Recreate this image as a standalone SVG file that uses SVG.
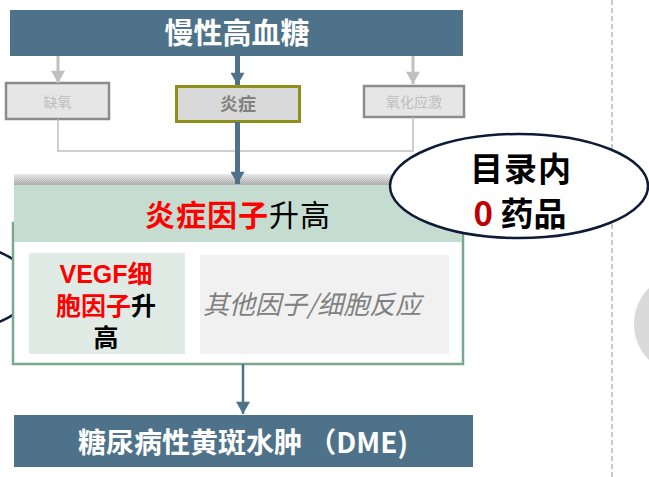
<svg xmlns="http://www.w3.org/2000/svg" width="649" height="477" viewBox="0 0 649 477">
<style>
.cjk{font-family:"Noto Sans CJK SC","Noto Sans",sans-serif}
.bar{fill:#4D7289}
.wt{fill:#FFFFFF;font-weight:bold}
.gbox{fill:#E6E6E6;stroke:#8C8C8C;stroke-width:2.5}
.gtxt{fill:#BDBDBD;font-size:14px}
.garrow{stroke:#C0C0C0;stroke-width:3;fill:none}
.barrow{stroke:#4D7289;fill:none}
.red{fill:#FF0000;font-weight:bold}
.vg{font-family:"Liberation Sans","Noto Sans CJK SC",sans-serif;font-size:25px;font-weight:bold}
</style>
<defs>
<marker id="hg" markerUnits="userSpaceOnUse" markerWidth="16" markerHeight="14" refX="14" refY="8" orient="auto" viewBox="0 0 14 16">
<path d="M0,0 L14,8 L0,16 Z" fill="#C0C0C0"/>
</marker>
<marker id="hb" markerUnits="userSpaceOnUse" markerWidth="16" markerHeight="14" refX="14" refY="8" orient="auto" viewBox="0 0 14 16">
<path d="M0,0 L14,8 L0,16 Z" fill="#4D7289"/>
</marker>
<linearGradient id="shadow" x1="0" y1="0" x2="0" y2="1">
<stop offset="0" stop-color="#E6E6E6"/>
<stop offset="1" stop-color="#9A9A9A"/>
</linearGradient>
<pattern id="grain" width="2" height="2" patternUnits="userSpaceOnUse">
<rect width="1" height="1" fill="#FFFFFF" fill-opacity="0.35"/>
<rect x="1" y="1" width="1" height="1" fill="#FFFFFF" fill-opacity="0.35"/>
</pattern>
</defs>
<rect width="649" height="477" fill="#FFFFFF"/>

<!-- divider and side circle -->
<line x1="612" y1="0" x2="612" y2="477" stroke="#A6A6A6" stroke-width="1.2" stroke-dasharray="5 3"/>
<circle cx="685" cy="324" r="51" fill="#D9D9D9"/>

<!-- left partial ellipse -->
<g id="left-ellipse">
<ellipse cx="-96" cy="287" rx="129" ry="52" fill="#FFFFFF" stroke="#0D1B38" stroke-width="2.5"/>
</g>

<g id="top">
<rect class="bar" x="10" y="10" width="453" height="46"/>
<text class="cjk wt" x="237" y="44" font-size="29" text-anchor="middle">慢性高血糖</text>
</g>

<g id="hypoxia">
<rect class="gbox" x="6" y="83" width="103" height="36"/>
<text class="cjk gtxt" x="57.5" y="107" text-anchor="middle">缺氧</text>
</g>

<g id="inflammation">
<rect x="176.5" y="86.5" width="123" height="35" fill="#D9D9D9" stroke="#8F8F1A" stroke-width="3"/>
<text class="cjk" x="238" y="111" font-size="18" font-weight="bold" fill="#808080" text-anchor="middle">炎症</text>
</g>

<g id="oxidative">
<rect class="gbox" x="364" y="86" width="100" height="31"/>
<text class="cjk gtxt" x="414" y="107" text-anchor="middle">氧化应激</text>
</g>

<!-- factor box -->
<g id="factors">
<rect x="14" y="174" width="448" height="11" fill="url(#shadow)"/>
<rect x="14" y="174" width="448" height="11" fill="url(#grain)"/>
<rect x="13" y="223" width="450" height="141" fill="#FFFFFF" stroke="#79A88E" stroke-width="2.5"/>
<rect x="14" y="185" width="448" height="57" fill="#C5DCD1"/>
<text class="cjk" x="238" y="226" font-size="30" text-anchor="middle" letter-spacing="1"><tspan class="red">炎症因子</tspan><tspan fill="#000000">升高</tspan></text>
</g>

<g id="vegf">
<rect x="29" y="253" width="156" height="101" fill="#E1EBE5"/>
<text class="vg" x="106" y="283" text-anchor="middle" fill="#FF0000">VEGF细</text>
<text class="vg" x="106" y="315" text-anchor="middle"><tspan fill="#FF0000">胞因子</tspan><tspan fill="#000000">升</tspan></text>
<text class="vg" x="106" y="347" text-anchor="middle" fill="#000000">高</text>
</g>

<g id="other">
<rect x="200" y="255" width="249" height="99" fill="#F1F1F1"/>
<text class="cjk" x="203" y="314" font-size="26" font-style="italic" fill="#808080">其他因子/细胞反应</text>
</g>

<g id="dme">
<rect class="bar" x="14" y="415" width="459" height="52"/>
<text class="cjk wt" x="243" y="453" font-size="28" text-anchor="middle">糖尿病性黄斑水肿 （DME)</text>
</g>

<!-- connectors -->
<g id="connectors">
<line class="garrow" x1="58" y1="56" x2="58" y2="83" marker-end="url(#hg)"/>
<line class="garrow" x1="413" y1="56" x2="413" y2="84" marker-end="url(#hg)"/>
<polyline points="58,119 58,151 413,151 413,117" fill="none" stroke="#C0C0C0" stroke-width="1.5"/>
<line class="barrow" x1="237.5" y1="56" x2="237.5" y2="85" stroke-width="5" marker-end="url(#hb)"/>
<line class="barrow" x1="237.5" y1="122" x2="237.5" y2="184" stroke-width="5" marker-end="url(#hb)"/>
<line class="barrow" x1="243" y1="364" x2="243" y2="414" stroke-width="2.5" marker-end="url(#hb)"/>
</g>

<!-- callout ellipse -->
<g id="catalog">
<ellipse cx="519" cy="186" rx="129" ry="52" fill="#FFFFFF" stroke="#0D1B38" stroke-width="2.5"/>
<text class="cjk" x="521" y="181" font-size="33" font-weight="bold" fill="#000000" text-anchor="middle" letter-spacing="1">目录内</text>
<text class="cjk" x="520" y="226" font-size="33" font-weight="bold" text-anchor="middle"><tspan fill="#C00000">0</tspan><tspan fill="#000000"> 药品</tspan></text>
</g>
</svg>
